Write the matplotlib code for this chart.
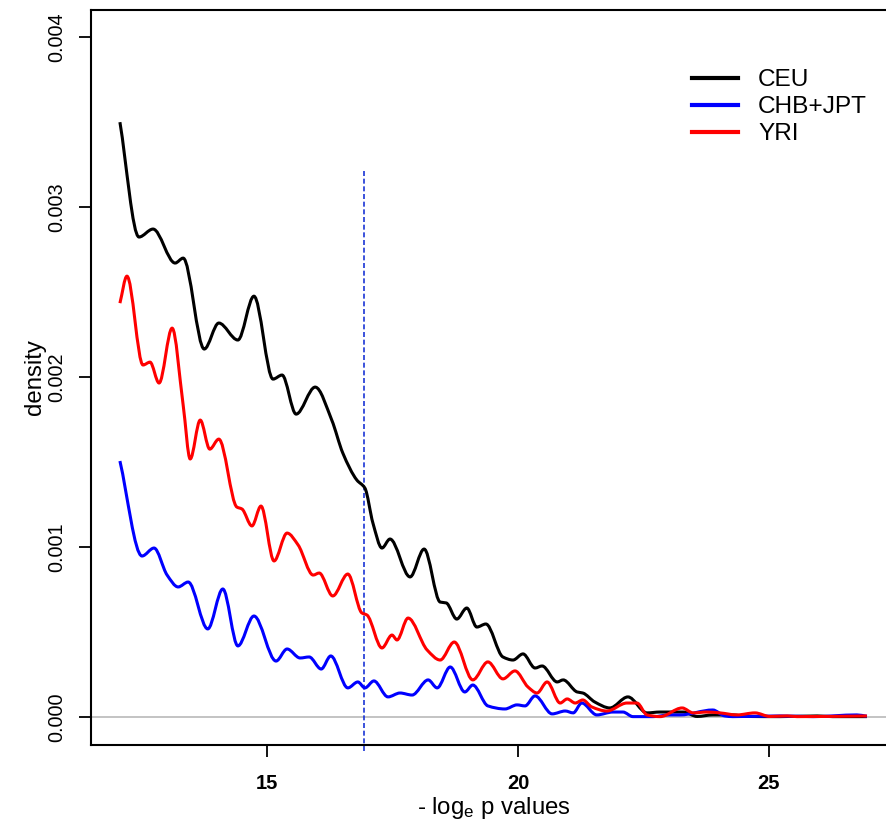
import matplotlib
matplotlib.use("Agg")
import matplotlib.pyplot as plt
from matplotlib.path import Path
from matplotlib.patches import PathPatch
from matplotlib.lines import Line2D
import numpy as np

plt.rcParams['font.family'] = ['Liberation Sans', 'DejaVu Sans']
plt.rcParams['mathtext.default'] = 'regular'

# ---- data ----
ceu_x = [12.07, 12.45, 12.73, 13.17, 13.33, 13.75, 14.04, 14.42, 14.74, 15.12,
         15.30, 15.58, 15.96, 16.29, 16.51, 16.79, 16.95, 17.11, 17.29, 17.45,
         17.85, 18.13, 18.45, 18.57, 18.78, 18.98, 19.18, 19.36, 19.70, 19.90,
         20.10, 20.34, 20.48, 20.78, 20.90, 21.18, 21.29, 21.53, 21.83, 22.19,
         22.57, 22.83, 23.29, 23.57, 23.88, 24.28, 24.56, 25.22, 25.96, 26.27,
         26.95]
ceu_y = [3.500, 2.824, 2.871, 2.671, 2.700, 2.165, 2.318, 2.218, 2.476, 1.988,
         2.012, 1.782, 1.941, 1.747, 1.553, 1.394, 1.347, 1.141, 0.994, 1.047,
         0.824, 0.988, 0.676, 0.671, 0.576, 0.641, 0.529, 0.547, 0.353, 0.335,
         0.371, 0.288, 0.300, 0.206, 0.218, 0.147, 0.141, 0.088, 0.053, 0.118,
         0.024, 0.029, 0.029, 0.003, 0.012, 0.012, 0.003, 0.002, 0.006, 0.002,
         0.002]

chb_x = [12.07, 12.51, 12.75, 13.01, 13.23, 13.43, 13.82, 14.12, 14.42, 14.74,
         15.18, 15.40, 15.66, 15.84, 16.08, 16.27, 16.61, 16.81, 16.95, 17.13,
         17.41, 17.65, 17.89, 18.21, 18.39, 18.65, 18.94, 19.10, 19.40, 19.74,
         19.98, 20.14, 20.34, 20.68, 20.94, 21.10, 21.27, 21.57, 21.89, 22.09,
         22.29, 22.69, 23.03, 23.23, 23.88, 24.12, 24.28, 25.22, 25.88, 26.75,
         26.95]
chb_y = [1.506, 0.947, 0.994, 0.835, 0.765, 0.794, 0.518, 0.753, 0.418, 0.594,
         0.329, 0.400, 0.347, 0.353, 0.282, 0.359, 0.171, 0.206, 0.171, 0.212,
         0.118, 0.141, 0.129, 0.218, 0.171, 0.294, 0.147, 0.188, 0.065, 0.047,
         0.071, 0.065, 0.124, 0.018, 0.035, 0.024, 0.082, 0.012, 0.029, 0.029,
         0.002, 0.002, 0.012, 0.012, 0.041, 0.006, 0.002, 0.006, 0.002, 0.012,
         0.004]

yri_x = [12.07, 12.21, 12.53, 12.67, 12.85, 13.11, 13.33, 13.47, 13.67, 13.86,
         14.04, 14.40, 14.50, 14.70, 14.88, 15.14, 15.40, 15.62, 15.92, 16.04,
         16.31, 16.61, 16.89, 16.99, 17.29, 17.49, 17.59, 17.81, 18.19, 18.45,
         18.73, 19.10, 19.40, 19.70, 19.94, 20.20, 20.38, 20.58, 20.84, 20.98,
         21.14, 21.29, 21.47, 21.77, 22.17, 22.37, 22.57, 22.83, 23.27, 23.49,
         23.76, 24.02, 24.36, 24.72, 25.02, 25.36, 25.56, 26.95]
yri_y = [2.435, 2.594, 2.071, 2.088, 1.965, 2.288, 1.835, 1.518, 1.747, 1.576,
         1.635, 1.235, 1.224, 1.124, 1.241, 0.918, 1.082, 1.012, 0.835, 0.847,
         0.712, 0.841, 0.612, 0.600, 0.406, 0.482, 0.453, 0.582, 0.394, 0.335,
         0.441, 0.218, 0.324, 0.224, 0.271, 0.176, 0.141, 0.206, 0.082, 0.106,
         0.082, 0.100, 0.059, 0.035, 0.082, 0.082, 0.012, 0.002, 0.053, 0.024,
         0.029, 0.024, 0.012, 0.024, 0.003, 0.006, 0.002, 0.006]

series_labels = ["CEU", "CHB+JPT", "YRI"]
series_colors = ["black", "#0000ff", "#ff0000"]
scale = 1e-3  # values above are in units of 0.001

cutoff = 16.93
cutoff_top = 0.00322

x_ticks = [15, 20, 25]
y_ticks = [0.000, 0.001, 0.002, 0.003, 0.004]
y_ticklabels = ["0.000", "0.001", "0.002", "0.003", "0.004"]


def smooth_path(x, y):
    """Monotone cubic (Fritsch-Carlson) Bezier path through the given points."""
    x = np.asarray(x, float)
    y = np.asarray(y, float)
    h = np.diff(x)
    d = np.diff(y) / h
    m = np.zeros_like(y)
    m[0], m[-1] = d[0], d[-1]
    for i in range(1, len(y) - 1):
        if d[i - 1] * d[i] <= 0:
            m[i] = 0.0
        else:
            w1 = 2 * h[i] + h[i - 1]
            w2 = h[i] + 2 * h[i - 1]
            m[i] = (w1 + w2) / (w1 / d[i - 1] + w2 / d[i])
    verts = [(x[0], y[0])]
    codes = [Path.MOVETO]
    for i in range(len(x) - 1):
        verts += [(x[i] + h[i] / 3, y[i] + m[i] * h[i] / 3),
                  (x[i + 1] - h[i] / 3, y[i + 1] - m[i + 1] * h[i] / 3),
                  (x[i + 1], y[i + 1])]
        codes += [Path.CURVE4] * 3
    return Path(verts, codes)


# ---- figure ----
fig = plt.figure(figsize=(8.86, 8.23), dpi=100)
ax = fig.add_axes([91/886, 1-745/823, (896-91)/886, (745-10)/823])

ax.axhline(0, color="#bebebe", lw=1.3, zorder=1)

xs = [ceu_x, chb_x, yri_x]
ys = [ceu_y, chb_y, yri_y]
handles = []
for x, y, lab, col in zip(xs, ys, series_labels, series_colors):
    p = smooth_path(x, np.array(y) * scale)
    ax.add_patch(PathPatch(p, facecolor="none", edgecolor=col, lw=2.2,
                           joinstyle="round", zorder=3))
    handles.append(Line2D([], [], color=col, lw=3, label=lab))

ax.plot([cutoff, cutoff], [-0.0002, cutoff_top], color="#1a35d6", lw=1.2,
        ls=(0, (3, 1.6)), clip_on=False, zorder=2)

ax.set_xlim(11.494, 27.53)
ax.set_ylim(-0.000165, 0.00416)
ax.set_xticks(x_ticks)
ax.set_xticklabels([str(t) for t in x_ticks], fontsize=14.5, fontweight="bold")
ax.set_yticks(y_ticks)
ax.set_yticklabels(y_ticklabels, fontsize=14.3, rotation=90, va="center")
ax.tick_params(axis="x", length=8.6, width=1.3, pad=12)
ax.tick_params(axis="y", length=9, width=1.3, pad=9)
for s in ax.spines.values():
    s.set_linewidth(1.5)

ax.set_xlabel("- log$_e$ p values", fontsize=17.3, labelpad=2)
ax.set_ylabel("density", fontsize=17.3, labelpad=1)

leg = ax.legend(handles=handles, loc="upper left",
                bbox_to_anchor=(692/886, 1-69/823),
                bbox_transform=fig.transFigure, frameon=False, fontsize=17.6,
                handlelength=1.9, handletextpad=0.8, labelspacing=0.2,
                borderpad=0, borderaxespad=0)

fig.savefig("out.png", dpi=100)
